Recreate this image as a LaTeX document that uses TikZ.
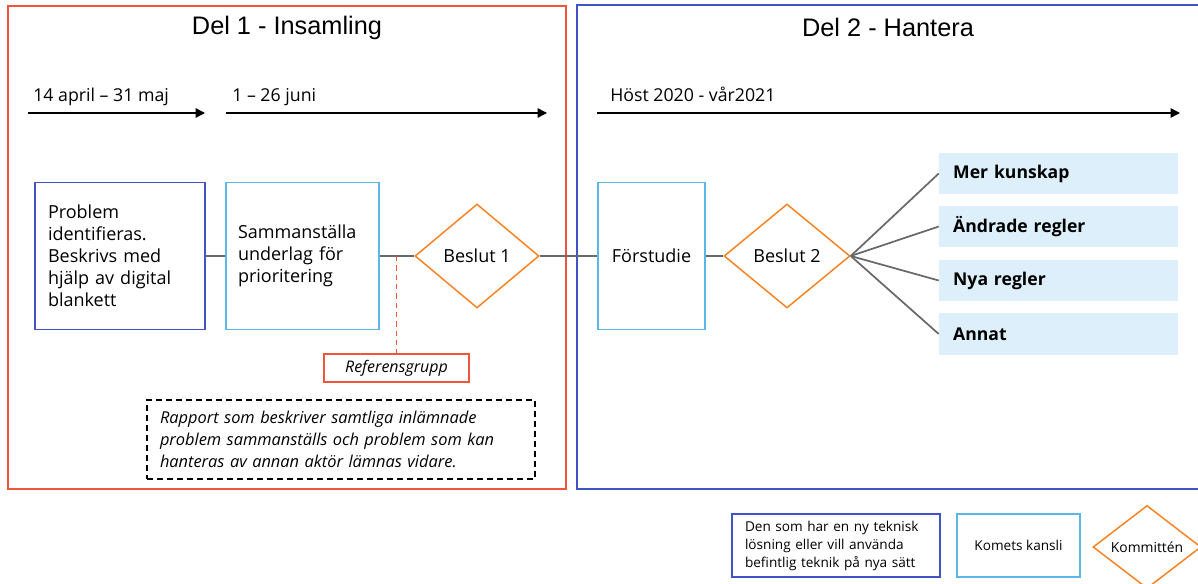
\documentclass[tikz,border=0pt]{standalone}
\usepackage{fontspec}
\setmainfont{Open Sans}
\newfontfamily\titlefont{Liberation Sans}
\usetikzlibrary{shapes.geometric, arrows.meta, positioning}
\definecolor{delonecolor}{RGB}{240,84,60}
\definecolor{deltwocolor}{RGB}{64,84,200}
\definecolor{kanslicolor}{RGB}{92,182,232}
\definecolor{kommittecolor}{RGB}{246,130,34}
\definecolor{utfallcolor}{RGB}{221,239,250}
\definecolor{linkcolor}{RGB}{105,105,105}

\begin{document}
\begin{tikzpicture}[
    x=0.75pt, y=-0.75pt,
    frame/.style={line width=1.1pt},
    title/.style={font=\titlefont\fontsize{19}{22}\selectfont},
    period/.style={font=\fontsize{13.3}{15}\selectfont, anchor=base west, inner sep=0pt},
    timeline/.style={line width=1.1pt, -{Triangle[length=7pt, width=7pt]}},
    stepbox/.style={draw, line width=1pt, minimum height=110pt, inner sep=0pt,
        font=\fontsize{13.5}{16.5}\selectfont},
    beslut/.style={diamond, draw=kommittecolor, line width=1.1pt, inner sep=0pt,
        minimum width=93pt, minimum height=78pt, font=\fontsize{13.5}{16.5}\selectfont},
    utfall/.style={fill=utfallcolor, minimum width=179.25pt, minimum height=31pt,
        text width=158pt, align=left, font=\bfseries\fontsize{13.2}{16.5}\selectfont},
    link/.style={draw=linkcolor, line width=1.3pt},
    legendbox/.style={draw, line width=1pt, minimum height=47.25pt, inner sep=0pt,
        font=\fontsize{10.2}{13.5}\selectfont}
]
    \useasboundingbox (0,0) rectangle (1198,584);

    % Frames
    \draw[frame, delonecolor] (8,6) rectangle (566,489);
    \draw[frame, deltwocolor] (577,5) rectangle (1215,489);
    \node[title] (del1) at (287,28) {Del 1 - Insamling};
    \node[title] (del2) at (888,27) {Del 2 - Hantera};

    % Time lines
    \coordinate (t1s) at (28,113);
    \coordinate (t1e) at (205,113);
    \coordinate (t2s) at (226,113);
    \coordinate (t2e) at (547,113);
    \coordinate (t3s) at (597,113);
    \coordinate (t3e) at (1180,113);
    \draw[timeline] (t1s) -- (t1e);
    \draw[timeline] (t2s) -- (t2e);
    \draw[timeline] (t3s) -- (t3e);
    \node[period] (p1) at (33,102) {14 april – 31 maj};
    \node[period] (p2) at (232,102) {1 – 26 juni};
    \node[period] (p3) at (610,102) {Höst 2020 - vår2021};

    % Del 1
    \node[stepbox, draw=deltwocolor, minimum width=127.5pt, text width=108pt, align=left]
        (problem) at (120,256) {Problem\\identifieras.\\Beskrivs med\\hjälp av digital\\blankett};
    \node[stepbox, draw=kanslicolor, minimum width=114.75pt, text width=96.75pt, align=left]
        (underlag) at (302.5,256) {Sammanställa\\underlag för\\prioritering};
    \node[beslut] (beslut1) at (477,256) {Beslut 1};
    \node[draw=delonecolor, line width=1pt, minimum width=108.75pt, minimum height=21pt,
        inner sep=0pt, font=\itshape\fontsize{12}{14}\selectfont]
        (referens) at (396.5,368) {Referensgrupp};
    \coordinate (refpunkt) at (396.5,256);
    \node[draw, dash pattern=on 4.5pt off 3pt, line width=1pt, minimum width=291pt, minimum height=59.25pt,
        text width=271.5pt, align=left, inner sep=0pt, font=\itshape\fontsize{12.3}{16.5}\selectfont]
        (rapport) at (341,439.5) {Rapport som beskriver samtliga inlämnade\\problem sammanställs och problem som kan\\hanteras av annan aktör lämnas vidare.};

    \draw[link] (problem) -- (underlag);
    \draw[link] (underlag) -- (beslut1);
    \draw[delonecolor, line width=0.9pt, dash pattern=on 4pt off 3pt] (refpunkt) -- (referens);

    % Del 2
    \node[stepbox, draw=kanslicolor, minimum width=80.25pt] (forstudie) at (651.5,256) {Förstudie};
    \node[beslut, minimum width=94.5pt] (beslut2) at (787,256) {Beslut 2};
    \node[utfall] (kunskap) at (1058.5,173.5) {Mer kunskap};
    \node[utfall] (andrade) at (1058.5,226.5) {Ändrade regler};
    \node[utfall] (nya) at (1058.5,280.5) {Nya regler};
    \node[utfall] (annat) at (1058.5,334) {Annat};

    \draw[link] (beslut1) -- (forstudie);
    \draw[link] (forstudie) -- (beslut2);
    \draw[link] (beslut2.east) -- (kunskap.west);
    \draw[link] (beslut2.east) -- (andrade.west);
    \draw[link] (beslut2.east) -- (nya.west);
    \draw[link] (beslut2.east) -- (annat.west);

    % Legend
    \node[legendbox, draw=deltwocolor, minimum width=156pt, text width=136.5pt, align=left]
        (inlamnare) at (836,545.5) {Den som har en ny teknisk\\lösning eller vill använda\\befintlig teknik på nya sätt};
    \node[legendbox, draw=kanslicolor, minimum width=92.25pt] (kansli) at (1018.5,545.5) {Komets kansli};
    \node[beslut, minimum width=81pt, minimum height=60pt, font=\fontsize{10.4}{13}\selectfont]
        (kommitte) at (1147,547) {Kommittén};
\end{tikzpicture}
\end{document}
